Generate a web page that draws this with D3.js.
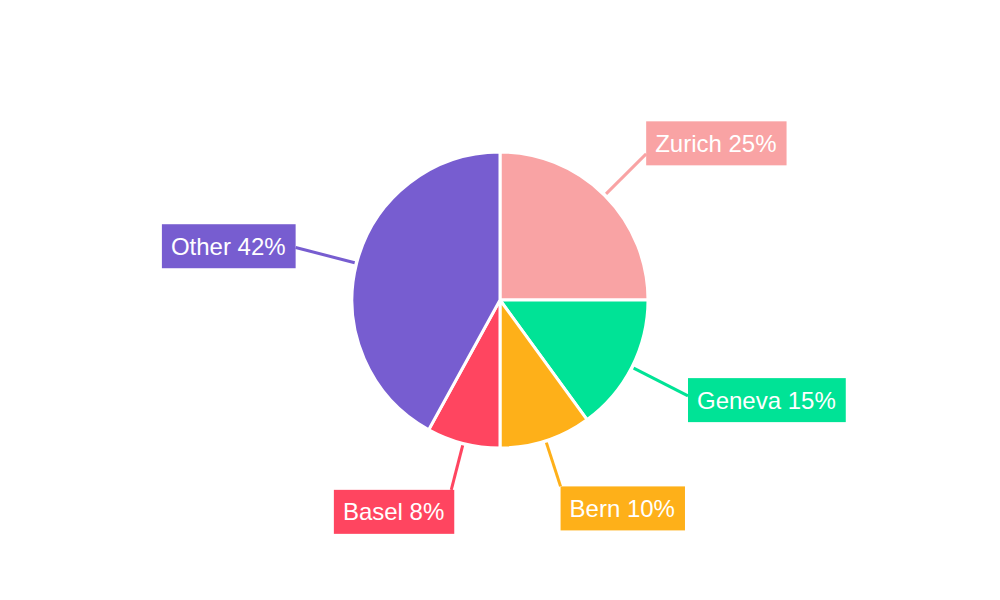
<!DOCTYPE html>
<html>
<head>
<meta charset="utf-8">
<script src="https://cdn.jsdelivr.net/npm/d3@7"></script>
<style>
  html, body { margin: 0; padding: 0; background: #ffffff; }
  svg { display: block; }
</style>
</head>
<body>
<svg id="chart" width="1000" height="600"></svg>
<script>
const categories = ["Zurich", "Geneva", "Bern", "Basel", "Other"];
const values = [25, 15, 10, 8, 42];
const colors = ["#F9A3A4", "#00E396", "#FEB019", "#FF4560", "#775DD0"];

const W = 1000, H = 600;
const cx = 500, cy = 300, R = 148;
const svg = d3.select("#chart");
const g = svg.append("g").attr("transform", `translate(${cx},${cy})`);

const data = categories.map((c, i) => ({ name: c, value: values[i], color: colors[i] }));
const total = d3.sum(values);

const pie = d3.pie().value(d => d.value).sort(null);
const arc = d3.arc().innerRadius(0).outerRadius(R);
const arcs = pie(data);

g.selectAll("path.slice")
  .data(arcs)
  .join("path")
  .attr("class", "slice")
  .attr("d", arc)
  .attr("fill", d => d.data.color)
  .attr("stroke", "#ffffff")
  .attr("stroke-width", 3)
  .attr("stroke-linejoin", "round");

const fontSize = 24, padX = 9, boxH = 44;

arcs.forEach(a => {
  const mid = (a.startAngle + a.endAngle) / 2;
  const s = Math.sin(mid), c = Math.cos(mid);
  const r0 = 150;
  const r1 = 196 + 15 * Math.min(1, Math.max(0, (Math.abs(s) - 0.35) / 0.5));
  const x0 = r0 * s, y0 = -r0 * c;
  const x1 = r1 * s, y1 = -r1 * c;

  g.append("line")
    .attr("x1", x0).attr("y1", y0)
    .attr("x2", x1).attr("y2", y1)
    .attr("stroke", a.data.color)
    .attr("stroke-width", 3);

  const label = `${a.data.name} ${Math.round(a.data.value / total * 100)}%`;
  const lg = g.append("g");
  const rect = lg.append("rect").attr("fill", a.data.color);
  const txt = lg.append("text")
    .attr("font-family", "'Liberation Sans', Arial, sans-serif")
    .attr("font-size", fontSize)
    .attr("fill", "#ffffff")
    .text(label);
  const tw = txt.node().getComputedTextLength();
  const bw = tw + 2 * padX + 1;
  const vertical = Math.abs(c) > 0.8;
  const bx = s >= 0 ? x1 : x1 - bw + (vertical ? 3 : 0);
  const off = vertical ? -Math.sign(c) * boxH / 2 : -c * Math.abs(c) * 21;
  const bcy = y1 + off;
  const by = bcy - boxH / 2;
  rect.attr("x", bx).attr("y", by).attr("width", bw).attr("height", boxH);
  txt.attr("x", bx + padX).attr("y", bcy + 8.5);
});
</script>
</body>
</html>
